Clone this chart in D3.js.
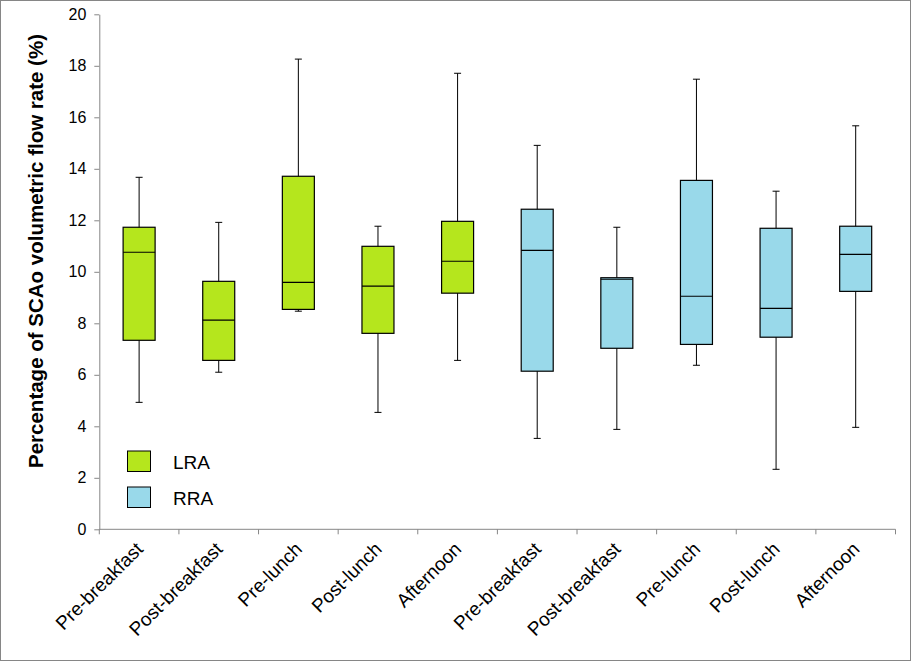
<!DOCTYPE html>
<html>
<head>
<meta charset="utf-8">
<script src="https://cdn.jsdelivr.net/npm/d3@7"></script>
<style>
  body { margin: 0; background: #fff; }
  svg { display: block; font-family: Arial, "Liberation Sans", sans-serif; }
</style>
</head>
<body>
<svg id="chart" width="911" height="661"></svg>
<script>
// categories along the x axis (LRA first, then RRA)
const categories = ["Pre-breakfast", "Post-breakfast", "Pre-lunch", "Post-lunch", "Afternoon",
                    "Pre-breakfast", "Post-breakfast", "Pre-lunch", "Post-lunch", "Afternoon"];
const groups = ["LRA", "LRA", "LRA", "LRA", "LRA", "RRA", "RRA", "RRA", "RRA", "RRA"];

// box statistics
const whiskerLow  = [4.93, 6.10, 8.47, 4.54, 6.56, 3.53, 3.88, 6.37, 2.33, 3.96];
const q1          = [7.34, 6.56, 8.54, 7.61, 9.17, 6.14, 7.03, 7.18, 7.46, 9.24];
const median      = [10.76, 8.12, 9.59, 9.44, 10.41, 10.83, 9.71, 9.05, 8.58, 10.68];
const q3          = [11.73, 9.63, 13.71, 10.99, 11.96, 12.43, 9.77, 13.55, 11.69, 11.77];
const whiskerHigh = [13.67, 11.92, 18.26, 11.77, 17.71, 14.91, 11.73, 17.48, 13.13, 15.67];

const yTicks = [0, 2, 4, 6, 8, 10, 12, 14, 16, 18, 20];
const legendItems = ["LRA", "RRA"];
const colors = { LRA: "#b5e61d", RRA: "#99d9ea" };

const svg = d3.select("#chart");
const W = 911, H = 661;
const margin = { left: 99.3, right: 15.5, top: 14.3, bottom: 131.7 };

// outer frame
svg.append("rect")
  .attr("x", 0.5).attr("y", 0.5)
  .attr("width", W - 1).attr("height", H - 1)
  .attr("fill", "#fff").attr("stroke", "#868686");

const x = d3.scaleBand()
  .domain(d3.range(categories.length))
  .range([margin.left, W - margin.right]);

const y = d3.scaleLinear()
  .domain([0, 20])
  .range([H - margin.bottom, margin.top]);

// y axis
const yAxis = svg.append("g")
  .attr("transform", `translate(${margin.left},0)`)
  .call(d3.axisLeft(y).tickValues(yTicks).tickSize(5).tickPadding(8).tickSizeOuter(0));
yAxis.select(".domain").attr("stroke", "#868686");
yAxis.selectAll(".tick line").attr("stroke", "#868686");
yAxis.selectAll(".tick text").attr("font-size", 16).attr("fill", "#000")
  .attr("font-family", "Arial, 'Liberation Sans', sans-serif");

// x axis (ticks at category boundaries)
const xBase = y(0);
svg.append("line")
  .attr("x1", margin.left).attr("x2", W - margin.right)
  .attr("y1", xBase).attr("y2", xBase)
  .attr("stroke", "#868686");
svg.selectAll(".xtick")
  .data(d3.range(categories.length + 1))
  .enter().append("line")
  .attr("x1", (d) => margin.left + d * x.step())
  .attr("x2", (d) => margin.left + d * x.step())
  .attr("y1", xBase).attr("y2", xBase + 5)
  .attr("stroke", "#868686");

svg.selectAll(".xlabel")
  .data(categories)
  .enter().append("text")
  .attr("transform", (d, i) =>
    `translate(${x(i) + x.bandwidth() / 2 + 5},${xBase + 21}) rotate(-45)`)
  .attr("text-anchor", "end")
  .attr("font-size", 19)
  .text((d) => d);

// y axis title
svg.append("text")
  .attr("transform", `translate(43,251) rotate(-90)`)
  .attr("text-anchor", "middle")
  .attr("font-size", 20.5)
  .attr("font-weight", "bold")
  .text("Percentage of SCAo volumetric flow rate (%)");

// boxes
const boxW = 32, capW = 7;
const box = svg.selectAll(".box")
  .data(categories.map((c, i) => i))
  .enter().append("g")
  .attr("transform", (i) => `translate(${x(i) + x.bandwidth() / 2},0)`);

box.append("line")
  .attr("x1", 0).attr("x2", 0)
  .attr("y1", (i) => y(whiskerLow[i])).attr("y2", (i) => y(whiskerHigh[i]))
  .attr("stroke", "#000").attr("stroke-width", 1);
box.append("line")
  .attr("x1", -capW / 2).attr("x2", capW / 2)
  .attr("y1", (i) => y(whiskerHigh[i])).attr("y2", (i) => y(whiskerHigh[i]))
  .attr("stroke", "#000");
box.append("line")
  .attr("x1", -capW / 2).attr("x2", capW / 2)
  .attr("y1", (i) => y(whiskerLow[i])).attr("y2", (i) => y(whiskerLow[i]))
  .attr("stroke", "#000");
box.append("rect")
  .attr("x", -boxW / 2).attr("width", boxW)
  .attr("y", (i) => y(q3[i]))
  .attr("height", (i) => y(q1[i]) - y(q3[i]))
  .attr("fill", (i) => colors[groups[i]])
  .attr("stroke", "#000").attr("stroke-width", 1.2);
box.append("line")
  .attr("x1", -boxW / 2).attr("x2", boxW / 2)
  .attr("y1", (i) => y(median[i])).attr("y2", (i) => y(median[i]))
  .attr("stroke", "#000").attr("stroke-width", 1.2);

// legend
const legend = svg.selectAll(".legend")
  .data(legendItems)
  .enter().append("g")
  .attr("transform", (d, i) => `translate(127.5,${451 + i * 36})`);
legend.append("rect")
  .attr("width", 23).attr("height", 20.5)
  .attr("fill", (d) => colors[d])
  .attr("stroke", "#000");
legend.append("text")
  .attr("x", 45.5).attr("y", 17.5)
  .attr("font-size", 19)
  .text((d) => d);
</script>
</body>
</html>
